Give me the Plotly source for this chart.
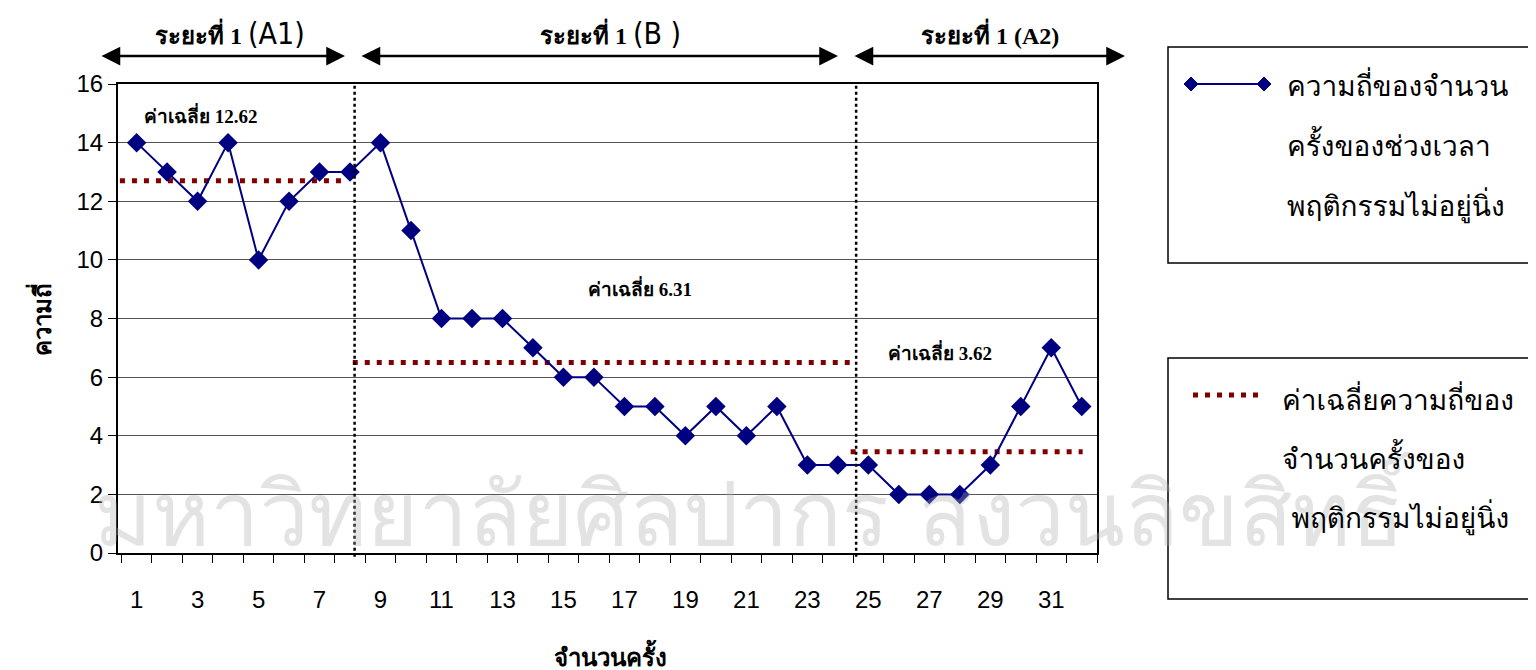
import plotly.graph_objects as go

# ---------------- data ----------------
sessions = list(range(1, 33))
frequency = [14, 13, 12, 14, 10, 12, 13, 13, 14, 11, 8, 8, 8, 7, 6, 6,
             5, 5, 4, 5, 4, 5, 3, 3, 3, 2, 2, 2, 3, 5, 7, 5]
x_tick_vals = list(range(1, 33, 2))
y_tick_vals = list(range(0, 17, 2))

phase_names = ["ระยะที่ 1", "ระยะที่ 1", "ระยะที่ 1"]
phase_codes = ["(A1)", "(B )", "(A2)"]
phase_boundaries = [8.15, 24.6]

mean_labels = ["ค่าเฉลี่ย 12.62", "ค่าเฉลี่ย 6.31", "ค่าเฉลี่ย 3.62"]
mean_levels = [12.7, 6.5, 3.45]
mean_start = [0.06, 8.09, 24.42]
mean_end = [7.73, 24.39, 32.03]
mean_label_x = [3.1, 17.5, 27.35]
mean_label_y = [14.94, 9.04, 6.86]

legend_line_text = ["ความถี่ของจำนวน", "ครั้งของช่วงเวลา", "พฤติกรรมไม่อยู่นิ่ง"]
legend_mean_text = ["ค่าเฉลี่ยความถี่ของ", "จำนวนครั้งของ", " พฤติกรรมไม่อยู่นิ่ง"]

x_title = "จำนวนครั้ง"
y_title = "ความถี่"
watermark = "มหาวิทยาลัยศิลปากร สงวนลิขสิทธิ์"

NAVY = "#000080"
DARKRED = "#800000"
THAI_SERIF = "Angsana New, Norasi, Garuda, Loma, Liberation Serif, serif"
THAI_BOLD = "Angsana New, Norasi, Liberation Serif, serif"
SANS = "Liberation Sans, Arial, sans-serif"
NARROW = "Liberation Sans Narrow, DejaVu Sans Condensed, sans-serif"

# plot area geometry in page pixels (page has an 8px body margin)
OFF = 8
L, R, T, B = 118, 1097, 84, 553
W, H = 1536 - OFF, 670 - OFF


def px(xp):
    return (xp - L) / (R - L)


def py(yp):
    return (B - yp) / (B - T)


arrow_px = [(100, 345), (360, 838), (853, 1125)]
label_px = [230, 610, 990]
code_light = [True, True, False]

fig = go.Figure()

for lvl, s, e in zip(mean_levels, mean_start, mean_end):
    fig.add_trace(go.Scatter(
        x=[s, e], y=[lvl, lvl], mode="lines",
        line=dict(color=DARKRED, width=5, dash="5px,7px"),
        showlegend=False, hoverinfo="skip", cliponaxis=False))

fig.add_trace(go.Scatter(
    x=sessions, y=frequency, mode="lines+markers",
    line=dict(color=NAVY, width=2),
    marker=dict(symbol="diamond", size=15, color=NAVY),
    showlegend=False, cliponaxis=False))

shapes = []
for b in phase_boundaries:
    shapes.append(dict(type="line", xref="x", yref="paper", x0=b, x1=b,
                       y0=-0.008, y1=1, line=dict(color="black", width=2.5, dash="3px,3px")))

shapes.append(dict(type="rect", xref="paper", yref="paper",
                   x0=px(1168), x1=px(1545), y0=py(263), y1=py(47),
                   line=dict(color="black", width=1.5)))
shapes.append(dict(type="rect", xref="paper", yref="paper",
                   x0=px(1168), x1=px(1545), y0=py(599), y1=py(358),
                   line=dict(color="black", width=1.5)))
shapes.append(dict(type="line", xref="paper", yref="paper",
                   x0=px(1191), x1=px(1264), y0=py(84), y1=py(84),
                   line=dict(color=NAVY, width=2)))
for cx in (1191, 1264):
    d = 7
    path = (f"M {px(cx - d)} {py(84)} L {px(cx)} {py(84 - d)} "
            f"L {px(cx + d)} {py(84)} L {px(cx)} {py(84 + d)} Z")
    shapes.append(dict(type="path", xref="paper", yref="paper", path=path,
                       fillcolor=NAVY, line=dict(color=NAVY, width=1)))
shapes.append(dict(type="line", xref="paper", yref="paper",
                   x0=px(1193), x1=px(1260), y0=py(395), y1=py(395),
                   line=dict(color=DARKRED, width=5, dash="5px,7px")))

annotations = []
annotations.append(dict(text=watermark, xref="paper", yref="paper",
                        x=px(752), y=py(514), xanchor="center", yanchor="middle",
                        showarrow=False,
                        font=dict(family=THAI_SERIF, size=88, color="rgba(175,175,175,0.35)")))

for name, code, light, (s, e), lx in zip(phase_names, phase_codes, code_light, arrow_px, label_px):
    annotations.append(dict(x=px(e), y=py(56), xref="paper", yref="paper",
                            axref="pixel", ayref="pixel", ax=s - e, ay=0,
                            text="", showarrow=True,
                            arrowhead=2, arrowside="end+start", arrowsize=1.5,
                            arrowwidth=2.5, arrowcolor="black"))
    if light:
        txt = (f"<b>{name}</b> <span style='font-family:{NARROW};font-size:30px'>"
               f"{code}</span>")
    else:
        txt = f"<b>{name} {code}</b>"
    annotations.append(dict(x=px(lx), y=py(33), xref="paper", yref="paper",
                            xanchor="center", yanchor="middle",
                            text=txt, showarrow=False,
                            font=dict(family=THAI_BOLD, size=24, color="black")))

for lab, mx, my in zip(mean_labels, mean_label_x, mean_label_y):
    annotations.append(dict(x=mx, y=my, xref="x", yref="y", text=f"<b>{lab}</b>",
                            showarrow=False,
                            font=dict(family=THAI_BOLD, size=19, color="black")))

for i, t in enumerate(legend_line_text):
    annotations.append(dict(x=px(1285), y=py(86 + 60 * i), xref="paper", yref="paper",
                            xanchor="left", yanchor="middle", text=t, showarrow=False,
                            font=dict(family=THAI_SERIF, size=28, color="black")))
for i, t in enumerate(legend_mean_text):
    annotations.append(dict(x=px(1280), y=py(400 + 59 * i), xref="paper", yref="paper",
                            xanchor="left", yanchor="middle", text=t, showarrow=False,
                            font=dict(family=THAI_SERIF, size=28, color="black")))

annotations.append(dict(x=px(610), y=py(655), xref="paper", yref="paper",
                        xanchor="center", yanchor="middle",
                        text=f"<b>{x_title}</b>", showarrow=False,
                        font=dict(family=SANS, size=24, color="black")))
annotations.append(dict(x=px(40), y=py(320), xref="paper", yref="paper",
                        xanchor="center", yanchor="middle",
                        text=f"<b>{y_title}</b>", showarrow=False, textangle=-90,
                        font=dict(family=SANS, size=24, color="black")))

fig.update_layout(
    width=W, height=H,
    margin=dict(l=L - OFF, r=W - (R - OFF), t=T - OFF, b=H - (B - OFF), pad=0),
    paper_bgcolor="white", plot_bgcolor="white",
    shapes=shapes, annotations=annotations,
    xaxis=dict(range=[0.39, 32.5], tickmode="array", tickvals=x_tick_vals,
               ticks="", showgrid=False, zeroline=False,
               showline=True, linecolor="black", linewidth=2, mirror=True,
               tickfont=dict(family=SANS, size=24, color="black"),
               ticklabelstandoff=24,
               minor=dict(tickmode="linear", tick0=0.5, dtick=1, ticks="outside",
                          ticklen=8, tickcolor="black", tickwidth=1, showgrid=False)),
    yaxis=dict(range=[0, 16], tickmode="array", tickvals=y_tick_vals,
               ticks="outside", ticklen=8, tickcolor="black",
               showgrid=True, gridcolor="#555555", gridwidth=1, zeroline=False,
               showline=True, linecolor="black", linewidth=2, mirror=True,
               tickfont=dict(family=SANS, size=24, color="black")),
)

fig.write_html("out.html")
